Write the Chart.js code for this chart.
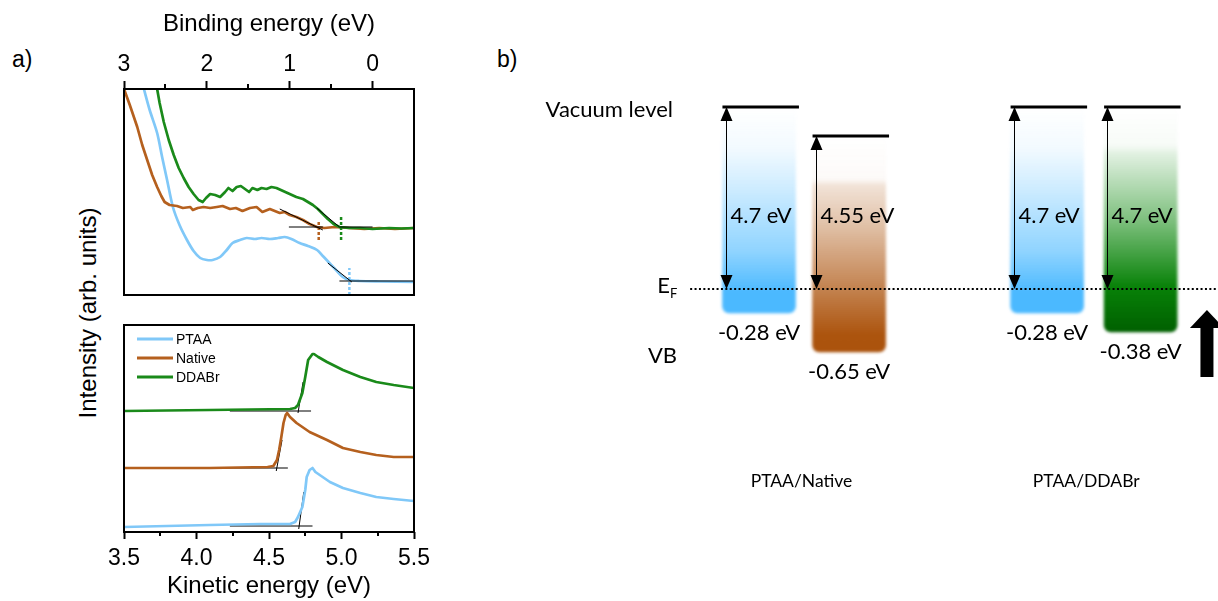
<!DOCTYPE html>
<html>
<head>
<meta charset="utf-8">
<script src="https://cdn.jsdelivr.net/npm/chart.js@4.4.1/dist/chart.umd.min.js"></script>
<style>
  html, body { margin: 0; padding: 0; background: #fff; }
  body { width: 1218px; height: 601px; position: relative; overflow: hidden; font-family: "Liberation Sans", Arial, sans-serif; color: #000; }
  canvas { position: absolute; }
  .tag { position: absolute; font-size: 23px; line-height: 1; }
  #ylab { position: absolute; left: 88px; top: 313px; transform: translate(-50%, -50%) rotate(-90deg); white-space: nowrap; font-size: 24px; line-height: 1; }
</style>
</head>
<body>
<div class="tag" style="left:12px; top:48px;">a)</div>
<div class="tag" style="left:497px; top:48px;">b)</div>
<div id="ylab">Intensity (arb. units)</div>
<canvas id="upsChart" width="440" height="300" style="left:0; top:0;"></canvas>
<canvas id="secoChart" width="440" height="301" style="left:0; top:300px;"></canvas>
<canvas id="levelChart" width="698" height="601" style="left:520px; top:0;"></canvas>
<script>
// ---------- a) top : valence band edge, binding energy (eV) vs intensity (arb.) ----------
const bePTAA = [2.76, 2.69, 2.60, 2.54, 2.48, 2.41, 2.33, 2.24, 2.16, 2.08, 2.00, 1.93, 1.84, 1.76, 1.69, 1.60, 1.52, 1.42, 1.34, 1.24, 1.14, 1.06, 0.98, 0.88, 0.78, 0.67, 0.60, 0.52, 0.43, 0.36, 0.28, 0.16, -0.08, -0.5];
const upsPTAA = [206, 185, 162, 138, 115, 88, 70, 55, 44, 37, 35, 35, 38, 45, 52, 55, 57, 56, 57, 56, 57, 58, 56, 52, 49, 45, 39, 32, 24, 18, 15, 14, 13.5, 13];
const beNative = [3.00, 2.93, 2.84, 2.78, 2.72, 2.66, 2.60, 2.55, 2.51, 2.45, 2.36, 2.29, 2.20, 2.17, 2.11, 2.04, 1.96, 1.88, 1.81, 1.72, 1.65, 1.57, 1.48, 1.40, 1.33, 1.24, 1.18, 1.12, 1.06, 1.00, 0.92, 0.84, 0.76, 0.67, 0.58, 0.46, 0.28, 0.10, -0.08, -0.27, -0.5];
const upsNative = [206, 190, 168, 150, 135, 120, 108, 99, 93, 90, 89, 87, 88, 85, 87, 88, 87, 88, 89, 86, 87, 84, 87, 88, 83, 86, 84, 82, 83, 80, 78, 75, 71, 68, 67, 68, 67, 66, 67, 66, 67];
const beDDABr = [2.60, 2.57, 2.52, 2.46, 2.40, 2.34, 2.28, 2.22, 2.16, 2.10, 2.05, 2.01, 1.96, 1.90, 1.84, 1.78, 1.74, 1.69, 1.64, 1.59, 1.54, 1.49, 1.45, 1.39, 1.34, 1.28, 1.22, 1.16, 1.08, 1.00, 0.92, 0.84, 0.78, 0.72, 0.66, 0.60, 0.54, 0.47, 0.40, 0.28, 0.15, 0.0, -0.2, -0.35, -0.5];
const upsDDABr = [206, 192, 173, 155, 140, 127, 117, 108, 101, 95, 93, 97, 101, 100, 98, 103, 107, 104, 108, 109, 106, 103, 107, 105, 107, 106, 108, 107, 104, 101, 98, 96, 93, 90, 86, 81, 76, 71, 68, 67, 67, 66, 67, 66.5, 67];
const beTicks = [3, 2, 1, 0];
const beMinorTicks = [2.5, 1.5, 0.5];
// linear fits [x1, y1, x2, y2] and onset markers (PTAA, Native, DDABr)
const vbFitSegments = [[0.54, 32, 0.25, 13], [0.40, 14, -0.5, 14], [1.12, 86, 0.60, 65], [1.01, 68, 0.60, 68], [0.675, 87, 0.40, 68], [0.40, 68, 0.0, 68]];
const vbOnset = [0.28, 0.65, 0.38];
const vbOnsetSpan = [[0, 27], [55, 75], [55, 80]];

// ---------- a) bottom : secondary electron cut-off, kinetic energy (eV) ----------
const kePTAA = [3.5, 4.09, 4.44, 4.645, 4.68, 4.70, 4.73, 4.75, 4.76, 4.78, 4.80, 4.82, 4.87, 4.92, 5.01, 5.13, 5.24, 5.36, 5.5];
const secoPTAA = [5, 7, 8, 8, 10, 15, 25, 42, 55, 62, 64, 60, 55, 50, 44, 39, 35, 33, 31];
const keNative = [3.5, 4.09, 4.49, 4.53, 4.555, 4.57, 4.585, 4.60, 4.615, 4.625, 4.645, 4.69, 4.78, 4.90, 5.01, 5.13, 5.24, 5.36, 5.5];
const secoNative = [64, 64, 65, 66, 72, 82, 95, 109, 117, 119, 115, 109, 100, 92, 84, 80, 77, 75, 75];
const keDDABr = [3.5, 4.09, 4.645, 4.68, 4.70, 4.73, 4.75, 4.77, 4.80, 4.81, 4.84, 4.90, 5.01, 5.13, 5.24, 5.36, 5.5];
const secoDDABr = [121, 122, 123, 124, 127, 139, 155, 172, 178, 178, 175, 170, 162, 155, 150, 147, 144];
const keTicks = [3.5, 4.0, 4.5, 5.0, 5.5];
const keMinorTicks = [3.75, 4.25, 4.75, 5.25];
const secoFitSegments = [[4.705, 3, 4.74, 40], [4.23, 6, 4.80, 6], [4.55, 61, 4.59, 92], [4.07, 64, 4.63, 64], [4.70, 119, 4.735, 150], [4.23, 121, 4.79, 121]];

const sampleNames = ['PTAA', 'Native', 'DDABr'];

// ---------- b) energy level diagram (schematic units, E_F = 0) ----------
const groupNames = ['PTAA/Native', 'PTAA/DDABr'];
const groupX = [1.5, 4.85];
const layerX = [1.0, 2.06, 4.39, 5.49];
const vacuumLevel = [182, 153, 182, 182];
const vbLevel = [-24, -63, -24, -43];
const workFunction = ['4.7 eV', '4.55 eV', '4.7 eV', '4.7 eV'];
const vbOffset = ['-0.28 eV', '-0.65 eV', '-0.28 eV', '-0.38 eV'];

const colors = { PTAA: '#80c8f8', Native: '#b5601e', DDABr: '#1a8a1a' };
const fills = [
  [[0, 'rgba(75,185,255,0)'], [0.2, 'rgba(75,185,255,0.07)'], [0.4, 'rgba(75,185,255,0.28)'], [0.7, 'rgba(75,185,255,0.62)'], [0.9, 'rgba(75,185,255,1)'], [1, 'rgba(75,185,255,1)']],
  [[0, 'rgba(172,84,14,0)'], [0.2, 'rgba(172,84,14,0.03)'], [0.23, 'rgba(172,84,14,0.17)'], [0.4, 'rgba(172,84,14,0.35)'], [0.7, 'rgba(172,84,14,0.72)'], [0.92, 'rgba(172,84,14,1)'], [1, 'rgba(170,82,12,1)']],
  [[0, 'rgba(75,185,255,0)'], [0.2, 'rgba(75,185,255,0.07)'], [0.4, 'rgba(75,185,255,0.28)'], [0.7, 'rgba(75,185,255,0.62)'], [0.9, 'rgba(75,185,255,1)'], [1, 'rgba(75,185,255,1)']],
  [[0, 'rgba(0,130,0,0)'], [0.17, 'rgba(0,130,0,0.03)'], [0.21, 'rgba(0,130,0,0.12)'], [0.5, 'rgba(0,130,0,0.5)'], [0.8, 'rgba(0,125,0,0.97)'], [1, 'rgba(0,95,0,1)']],
];

const arial = '"Liberation Sans", Arial, sans-serif';
const lato = 'Lato, "Open Sans", sans-serif';

Chart.defaults.font.family = arial;
Chart.defaults.color = '#000';

const toPoints = (xs, ys) => xs.map((x, i) => ({ x, y: ys[i] }));
const toSegments = (list) => {
  const pts = [];
  list.forEach(s => pts.push({ x: s[0], y: s[1] }, { x: s[2], y: s[3] }, { x: s[2], y: null }));
  return pts;
};
const curve = (label, xs, ys) => ({
  label, data: toPoints(xs, ys), borderColor: colors[label], borderWidth: 2.7,
  pointRadius: 0, tension: 0, borderJoinStyle: 'round',
});
const fitLine = (list) => ({
  label: 'fit', data: toSegments(list), borderColor: '#000', borderWidth: 1,
  pointRadius: 0, spanGaps: false,
});

// box around the plot area + minor ticks on the labelled axis
const frame = {
  id: 'frame',
  afterDraw(chart, args, opts) {
    const { ctx, chartArea: a, scales: { x } } = chart;
    ctx.save();
    ctx.strokeStyle = '#000';
    ctx.lineWidth = 2;
    ctx.strokeRect(a.left, a.top, a.right - a.left, a.bottom - a.top);
    const top = x.options.position === 'top';
    const edge = top ? a.top : a.bottom;
    ctx.beginPath();
    opts.minor.forEach(v => {
      const px = Math.round(x.getPixelForValue(v));
      ctx.moveTo(px, edge);
      ctx.lineTo(px, edge + (top ? -opts.len : opts.len));
    });
    ctx.stroke();
    ctx.restore();
  }
};

// legend drawn inside the plot area, upper left
const insideLegend = {
  id: 'insideLegend',
  afterDraw(chart, args, opts) {
    const { ctx, chartArea: a } = chart;
    ctx.save();
    ctx.font = '14px ' + arial;
    ctx.textBaseline = 'middle';
    opts.items.forEach((idx, k) => {
      const ds = chart.data.datasets[idx];
      const y = a.top + 14 + k * 19;
      ctx.strokeStyle = ds.borderColor;
      ctx.lineWidth = 3;
      ctx.beginPath();
      ctx.moveTo(a.left + 13, y);
      ctx.lineTo(a.left + 49, y);
      ctx.stroke();
      ctx.fillStyle = '#000';
      ctx.fillText(ds.label, a.left + 52, y + 1);
    });
    ctx.restore();
  }
};

const axisTicks = { font: { family: arial, size: 23 }, color: '#000', maxRotation: 0, autoSkip: false };
const axisTitle = (text, pad) => ({ display: true, text, font: { family: arial, size: 24 }, color: '#000', padding: pad });
const axisGrid = (len) => ({ drawOnChartArea: false, tickLength: len, tickWidth: 2, tickColor: '#000' });

// ---------------- top plot ----------------
const markerSets = sampleNames.map((name, i) => ({
  label: name + ' onset',
  data: [{ x: vbOnset[i], y: vbOnsetSpan[i][0] }, { x: vbOnset[i], y: vbOnsetSpan[i][1] }],
  borderColor: colors[name], borderWidth: 2.5, borderDash: [3, 2], pointRadius: 0,
}));

new Chart(document.getElementById('upsChart'), {
  type: 'line',
  data: {
    datasets: [
      fitLine(vbFitSegments),
      ...markerSets,
      curve('DDABr', beDDABr, upsDDABr),
      curve('Native', beNative, upsNative),
      { ...curve('PTAA', bePTAA, upsPTAA), tension: 0.3 },
    ],
  },
  options: {
    responsive: false, animation: false, devicePixelRatio: 1, events: [],
    layout: { padding: { left: 124, right: 26, top: 0, bottom: 5 } },
    scales: {
      x: {
        type: 'linear', position: 'top', reverse: true, min: -0.5, max: 3,
        afterBuildTicks: s => { s.ticks = beTicks.map(v => ({ value: v })); },
        afterFit: s => { s.height = 89; },
        grid: axisGrid(8),
        border: { display: false },
        ticks: { ...axisTicks, padding: 3, callback: v => String(v) },
        title: axisTitle('Binding energy (eV)', { top: 10, bottom: 0 }),
      },
      y: { display: false, min: 0, max: 206 },
    },
    plugins: {
      legend: { display: false }, tooltip: { enabled: false },
      frame: { minor: beMinorTicks, len: 5 },
    },
  },
  plugins: [frame],
});

// ---------------- bottom plot ----------------
new Chart(document.getElementById('secoChart'), {
  type: 'line',
  data: {
    datasets: [
      curve('PTAA', kePTAA, secoPTAA),
      curve('Native', keNative, secoNative),
      curve('DDABr', keDDABr, secoDDABr),
      fitLine(secoFitSegments),
    ],
  },
  options: {
    responsive: false, animation: false, devicePixelRatio: 1, events: [],
    layout: { padding: { left: 124, right: 26, top: 25, bottom: 0 } },
    scales: {
      x: {
        type: 'linear', position: 'bottom', min: 3.5, max: 5.5,
        afterBuildTicks: s => { s.ticks = keTicks.map(v => ({ value: v })); },
        afterFit: s => { s.height = 69; },
        grid: axisGrid(7),
        border: { display: false },
        ticks: { ...axisTicks, padding: 6, callback: v => Number(v).toFixed(1) },
        title: axisTitle('Kinetic energy (eV)', { top: 0, bottom: 0 }),
      },
      y: { display: false, min: 0, max: 207 },
    },
    plugins: {
      legend: { display: false }, tooltip: { enabled: false },
      frame: { minor: keMinorTicks, len: 4 },
      insideLegend: { items: [0, 1, 2] },
    },
  },
  plugins: [frame, insideLegend],
});

// ---------------- b) energy level diagram ----------------
const vacuumSegments = [];
layerX.forEach((x, i) => {
  vacuumSegments.push({ x: x - 0.43, y: vacuumLevel[i] }, { x: x + 0.47, y: vacuumLevel[i] }, { x: x + 0.47, y: null });
});

const softBars = {
  id: 'softBars',
  beforeDatasetDraw(chart, args) {
    if (args.meta.type !== 'bar') return;
    chart.ctx.save();
    chart.ctx.filter = 'blur(1.6px)';
  },
  afterDatasetDraw(chart, args) {
    if (args.meta.type !== 'bar') return;
    chart.ctx.restore();
  },
};

const arrowHead = (ctx, x, tipY, dir, w, h) => {
  ctx.beginPath();
  ctx.moveTo(x, tipY);
  ctx.lineTo(x - w / 2, tipY + dir * h);
  ctx.lineTo(x + w / 2, tipY + dir * h);
  ctx.closePath();
  ctx.fill();
};

const levelNotes = {
  id: 'levelNotes',
  afterDatasetsDraw(chart, args, opts) {
    const { ctx, chartArea: a, scales: { x, y } } = chart;
    const meta = chart.getSortedVisibleDatasetMetas().find(m => m.type === 'bar');
    const yF = y.getPixelForValue(0);
    ctx.save();
    ctx.fillStyle = '#000';
    ctx.strokeStyle = '#000';
    meta.data.forEach((bar, i) => {
      const ax = Math.round(bar.x - bar.width / 2) + 3.5;
      const yTop = y.getPixelForValue(vacuumLevel[i]);
      ctx.lineWidth = 1;
      ctx.beginPath();
      ctx.moveTo(ax, yTop + 10);
      ctx.lineTo(ax, yF - 10);
      ctx.stroke();
      arrowHead(ctx, ax, yTop, 1, 12, 14);
      arrowHead(ctx, ax, yF, -1, 12, 14);
      ctx.font = '22px ' + lato;
      ctx.textAlign = 'left';
      ctx.textBaseline = 'alphabetic';
      ctx.fillText(workFunction[i], ax + 4, y.getPixelForValue(opts.labelLevel));
      ctx.textAlign = 'center';
      ctx.fillText(vbOffset[i], bar.x, y.getPixelForValue(vbLevel[i]) + 27);
    });
    // level names on the left
    ctx.textAlign = 'right';
    ctx.font = '22px ' + lato;
    ctx.fillText('Vacuum level', a.left - 1, y.getPixelForValue(opts.vacuumNameLevel));
    ctx.fillText('VB', a.left + 3, y.getPixelForValue(opts.vbNameLevel));
    ctx.fillText('E', a.left - 4, yF + 4);
    ctx.textAlign = 'left';
    ctx.font = '13px ' + lato;
    ctx.fillText('F', a.left - 4, yF + 9);
    // big upward arrow
    const bx = x.getPixelForValue(opts.bigArrow.x);
    const by0 = y.getPixelForValue(opts.bigArrow.from);
    const by1 = y.getPixelForValue(opts.bigArrow.to);
    ctx.fillRect(bx - 6.5, by1 + 16, 13, by0 - by1 - 16);
    arrowHead(ctx, bx, by1, 1, 34, 18);
    ctx.restore();
  },
};

new Chart(document.getElementById('levelChart'), {
  type: 'bar',
  data: {
    datasets: [
      {
        type: 'line', label: 'E_F', data: [{ x: 0.19, y: 0 }, { x: 6.4, y: 0 }],
        borderColor: '#000', borderWidth: 2, borderDash: [2, 2.4], pointRadius: 0,
      },
      {
        type: 'line', label: 'Vacuum level', data: vacuumSegments,
        borderColor: '#000', borderWidth: 3, pointRadius: 0, spanGaps: false,
      },
      {
        label: 'layers',
        data: layerX.map((x, i) => ({ x, y: [vbLevel[i], vacuumLevel[i]] })),
        barThickness: 73, grouped: false, borderWidth: 0, borderSkipped: false, borderRadius: 7,
        backgroundColor: (c) => {
          const chart = c.chart;
          if (!chart.chartArea || c.dataIndex === undefined) return 'rgba(0,0,0,0)';
          const ys = chart.scales.y;
          const i = c.dataIndex;
          const g = chart.ctx.createLinearGradient(0, ys.getPixelForValue(vacuumLevel[i]), 0, ys.getPixelForValue(vbLevel[i]));
          fills[i].forEach(s => g.addColorStop(s[0], s[1]));
          return g;
        },
      },
    ],
  },
  options: {
    responsive: false, animation: false, devicePixelRatio: 1, events: [],
    layout: { padding: { left: 154, right: 0, top: 0, bottom: 0 } },
    scales: {
      x: {
        type: 'linear', min: 0, max: 6.4, offset: false, position: 'bottom',
        afterBuildTicks: s => { s.ticks = groupX.map(v => ({ value: v })); },
        afterFit: s => { s.height = 141; },
        grid: { display: false, drawTicks: false },
        border: { display: false },
        ticks: { font: { family: lato, size: 17.5 }, color: '#000', padding: 11, maxRotation: 0, autoSkip: false, callback: (v, i) => groupNames[i] },
      },
      y: { display: false, min: -171, max: 289 },
    },
    plugins: {
      legend: { display: false }, tooltip: { enabled: false },
      levelNotes: { labelLevel: 66, vacuumNameLevel: 172, vbNameLevel: -74, bigArrow: { x: 6.27, from: -88, to: -21 } },
    },
  },
  plugins: [softBars, levelNotes],
});
</script>
</body>
</html>
